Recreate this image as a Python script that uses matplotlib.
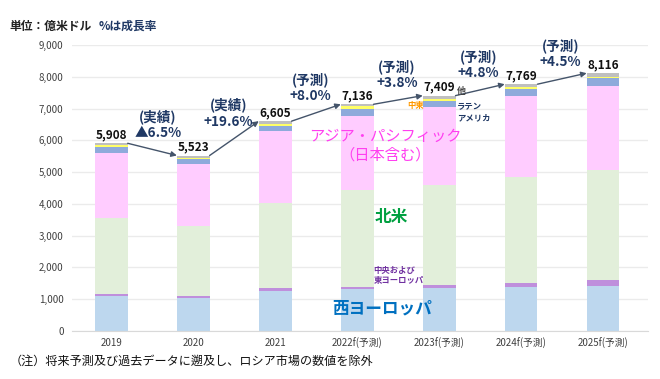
import matplotlib
matplotlib.use('Agg')
import matplotlib.pyplot as plt
import numpy as np

plt.rcParams['font.family'] = ['Noto Sans CJK JP', 'DejaVu Sans']

# データ（単位：億米ドル）
years = ['2019', '2020', '2021', '2022f(予測)', '2023f(予測)', '2024f(予測)', '2025f(予測)']
west_europe = [1110, 1030, 1262, 1315, 1335, 1378, 1398]
east_europe = [65, 65, 73, 73, 107, 136, 189]
north_america = [2380, 2217, 2693, 3060, 3164, 3335, 3470]
asia_pacific = [2050, 1946, 2281, 2334, 2451, 2533, 2650]
latin_america = [180, 146, 158, 212, 177, 221, 243]
middle_east = [60, 53, 63, 82, 75, 63, 53]
others = [63, 66, 75, 60, 100, 103, 113]
totals = [5908, 5523, 6605, 7136, 7409, 7769, 8116]
growth_kind = ['(実績)', '(実績)', '(予測)', '(予測)', '(予測)', '(予測)']
growth_rate = ['▲6.5%', '+19.6%', '+8.0%', '+3.8%', '+4.8%', '+4.5%']

series = [
    (west_europe, '#bdd7ee'),
    (east_europe, '#bf8fdc'),
    (north_america, '#e2efda'),
    (asia_pacific, '#ffccff'),
    (latin_america, '#8eaadb'),
    (middle_east, '#ffff66'),
    (others, '#bfbfbf'),
]

navy = '#1f3864'
# 成長率ラベルの横ずれ（ポイント）
label_dx = [4, -4, -4, -1, -1, -1]

fig = plt.figure(figsize=(6.6, 3.79), dpi=100)
ax = fig.add_axes([0.109, 0.127, 0.873, 0.754])

x = np.arange(len(years))
width = 0.4
bottom = np.zeros(len(years))
for vals, color in series:
    ax.bar(x, vals, width, bottom=bottom, color=color, edgecolor='none', zorder=2)
    bottom += np.array(vals)

# 合計ラベル
for i, t in enumerate(totals):
    ax.text(x[i], t + 60, f'{t:,}', ha='center', va='bottom', fontsize=8.5,
            fontweight='bold', color='#111111', zorder=4)

# 成長率の矢印とラベル
for i in range(len(totals) - 1):
    ax.annotate('', xy=(x[i + 1] - width / 2, totals[i + 1]),
                xytext=(x[i] + width / 2, totals[i]),
                arrowprops=dict(arrowstyle='-|>', color='#44546a', lw=1.0,
                                mutation_scale=8, shrinkA=0, shrinkB=0),
                zorder=3)
    mid = (totals[i] + totals[i + 1]) / 2
    ax.annotate(growth_kind[i] + '\n' + growth_rate[i], xy=(x[i] + 0.5, mid),
                xytext=(label_dx[i], 18), textcoords='offset points', ha='center', va='center',
                fontsize=9.8, fontweight='bold', color=navy, linespacing=1.2)

ax.set_xlim(-0.48, 6.55)
ax.set_ylim(0, 9000)
ax.set_yticks(range(0, 9001, 1000))
ax.set_yticklabels([f'{v:,}' for v in range(0, 9001, 1000)], fontsize=7, color='#404040')
ax.set_xticks(x)
ax.set_xticklabels(years, fontsize=7, color='#404040')
ax.tick_params(axis='y', length=0, pad=6)
ax.tick_params(axis='x', length=0, pad=5)
ax.grid(True, axis='y', color='#ebebeb', linewidth=1, zorder=0)
for s in ['top', 'right', 'left']:
    ax.spines[s].set_visible(False)
ax.spines['bottom'].set_color('#d9d9d9')

# 地域ラベル
ax.text(3.3, 700, '西ヨーロッパ', ha='center', va='center', fontsize=12,
        fontweight='bold', color='#0070c0', zorder=5)
ax.text(3.2, 1750, '中央および\n東ヨーロッパ', ha='left', va='center', fontsize=6,
        fontweight='bold', color='#7030a0', linespacing=1.1, zorder=5)
ax.text(3.42, 3600, '北米', ha='center', va='center', fontsize=12,
        fontweight='bold', color='#00a040', zorder=5)
ax.text(3.34, 5830, 'アジア・パシフィック\n（日本含む）', ha='center', va='center',
        fontsize=11, color='#ff40f0', linespacing=1.15, zorder=5)
ax.text(3.82, 7090, '中東', ha='right', va='center', fontsize=6,
        fontweight='bold', color='#ff9900', zorder=5)
ax.text(4.22, 6900, 'ラテン\nアメリカ', ha='left', va='center', fontsize=6,
        fontweight='bold', color=navy, linespacing=1.3, zorder=5)
ax.text(4.22, 7560, '他', ha='left', va='center', fontsize=6.5,
        fontweight='bold', color='#404040', zorder=5)

fig.text(0.015, 0.93, '単位：億米ドル', fontsize=8.5, fontweight='bold', color='#222222', va='center')
fig.text(0.15, 0.93, '%は成長率', fontsize=8.5, fontweight='bold', color=navy, va='center')
fig.text(0.015, 0.048, '（注）将来予測及び過去データに遡及し、ロシア市場の数値を除外',
         fontsize=8.7, color='#111111', va='center')

fig.savefig('out.png', dpi=100)
